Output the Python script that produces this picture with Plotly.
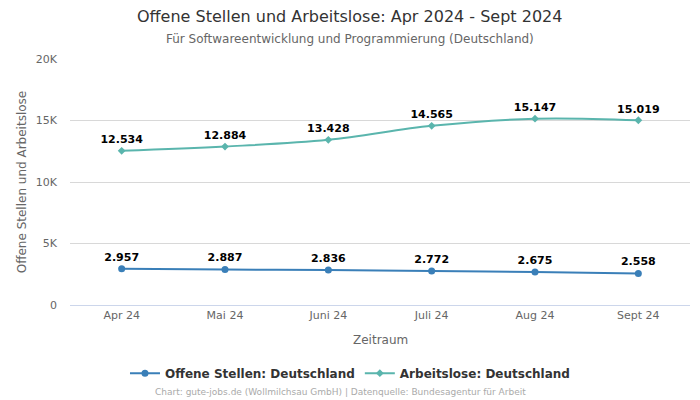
import plotly.graph_objects as go

categories = ["Apr 24", "Mai 24", "Juni 24", "Juli 24", "Aug 24", "Sept 24"]
offene_stellen = [2957, 2887, 2836, 2772, 2675, 2558]
arbeitslose = [12534, 12884, 13428, 14565, 15147, 15019]
y_tickvals = [0, 5000, 10000, 15000, 20000]
y_ticktext = ["0", "5K", "10K", "15K", "20K"]

def fmt(v):
    return f"{v:,}".replace(",", ".")

font = "DejaVu Sans"
fig = go.Figure()
fig.add_trace(go.Scatter(
    x=categories, y=offene_stellen, name="Offene Stellen: Deutschland",
    mode="lines+markers+text", line=dict(color="#3a7fb8", width=2, shape="spline"),
    marker=dict(size=7, color="#3a7fb8", symbol="circle"),
    text=[fmt(v) for v in offene_stellen], textposition="top center",
    textfont=dict(family=font, size=11, color="#000000", weight="bold"),
))
fig.add_trace(go.Scatter(
    x=categories, y=arbeitslose, name="Arbeitslose: Deutschland",
    mode="lines+markers+text", line=dict(color="#5ab5ad", width=2, shape="spline"),
    marker=dict(size=6, color="#5ab5ad", symbol="diamond"),
    text=[fmt(v) for v in arbeitslose], textposition="top center",
    textfont=dict(family=font, size=11, color="#000000", weight="bold"),
))

fig.update_layout(
    width=700, height=400,
    margin=dict(l=70, r=10, t=59, b=95, autoexpand=False),
    paper_bgcolor="white", plot_bgcolor="white",
    font=dict(family=font, color="#666666", size=11),
    xaxis=dict(
        automargin=False,
        range=[-0.5, 5.5], showgrid=False, showline=True, linecolor="#ccd6eb",
        ticks="", tickfont=dict(size=11, color="#666666"),
    ),
    yaxis=dict(
        automargin=False,
        range=[0, 20000], tickvals=y_tickvals, ticktext=y_ticktext,
        showgrid=True, gridcolor="#d8d8d8", zeroline=False,
        tickfont=dict(size=11, color="#666666"), ticklabelstandoff=12,
    ),
    legend=dict(
        orientation="h", x=0.4516, xanchor="center", y=-0.218, yanchor="top",
        font=dict(size=12, color="#333333", weight="bold"), itemwidth=30,
    ),
    showlegend=True,
)
annots = [
    dict(text="Offene Stellen und Arbeitslose: Apr 2024 - Sept 2024", x=0.4516, y=1.171,
         font=dict(size=16, color="#333333")),
    dict(text="Für Softwareentwicklung und Programmierung (Deutschland)", x=0.4516, y=1.081,
         font=dict(size=12, color="#666666")),
    dict(text="Zeitraum", x=0.5, y=-0.142, font=dict(size=12, color="#666666")),
    dict(text="Chart: gute-jobs.de (Wollmilchsau GmbH) | Datenquelle: Bundesagentur für Arbeit",
         x=0.437, y=-0.354, font=dict(size=9, color="#aaaaaa")),
]
for a in annots:
    fig.add_annotation(xref="paper", yref="paper", xanchor="center", yanchor="middle",
                       showarrow=False, **a)
fig.add_annotation(text="Offene Stellen und Arbeitslose", xref="paper", yref="paper",
                   x=-0.077, y=0.5, xanchor="center", yanchor="middle", textangle=-90,
                   showarrow=False, font=dict(size=12, color="#666666"))
fig.write_html("out.html", config={"displayModeBar": False},
               post_script="document.body.style.margin='0';")
